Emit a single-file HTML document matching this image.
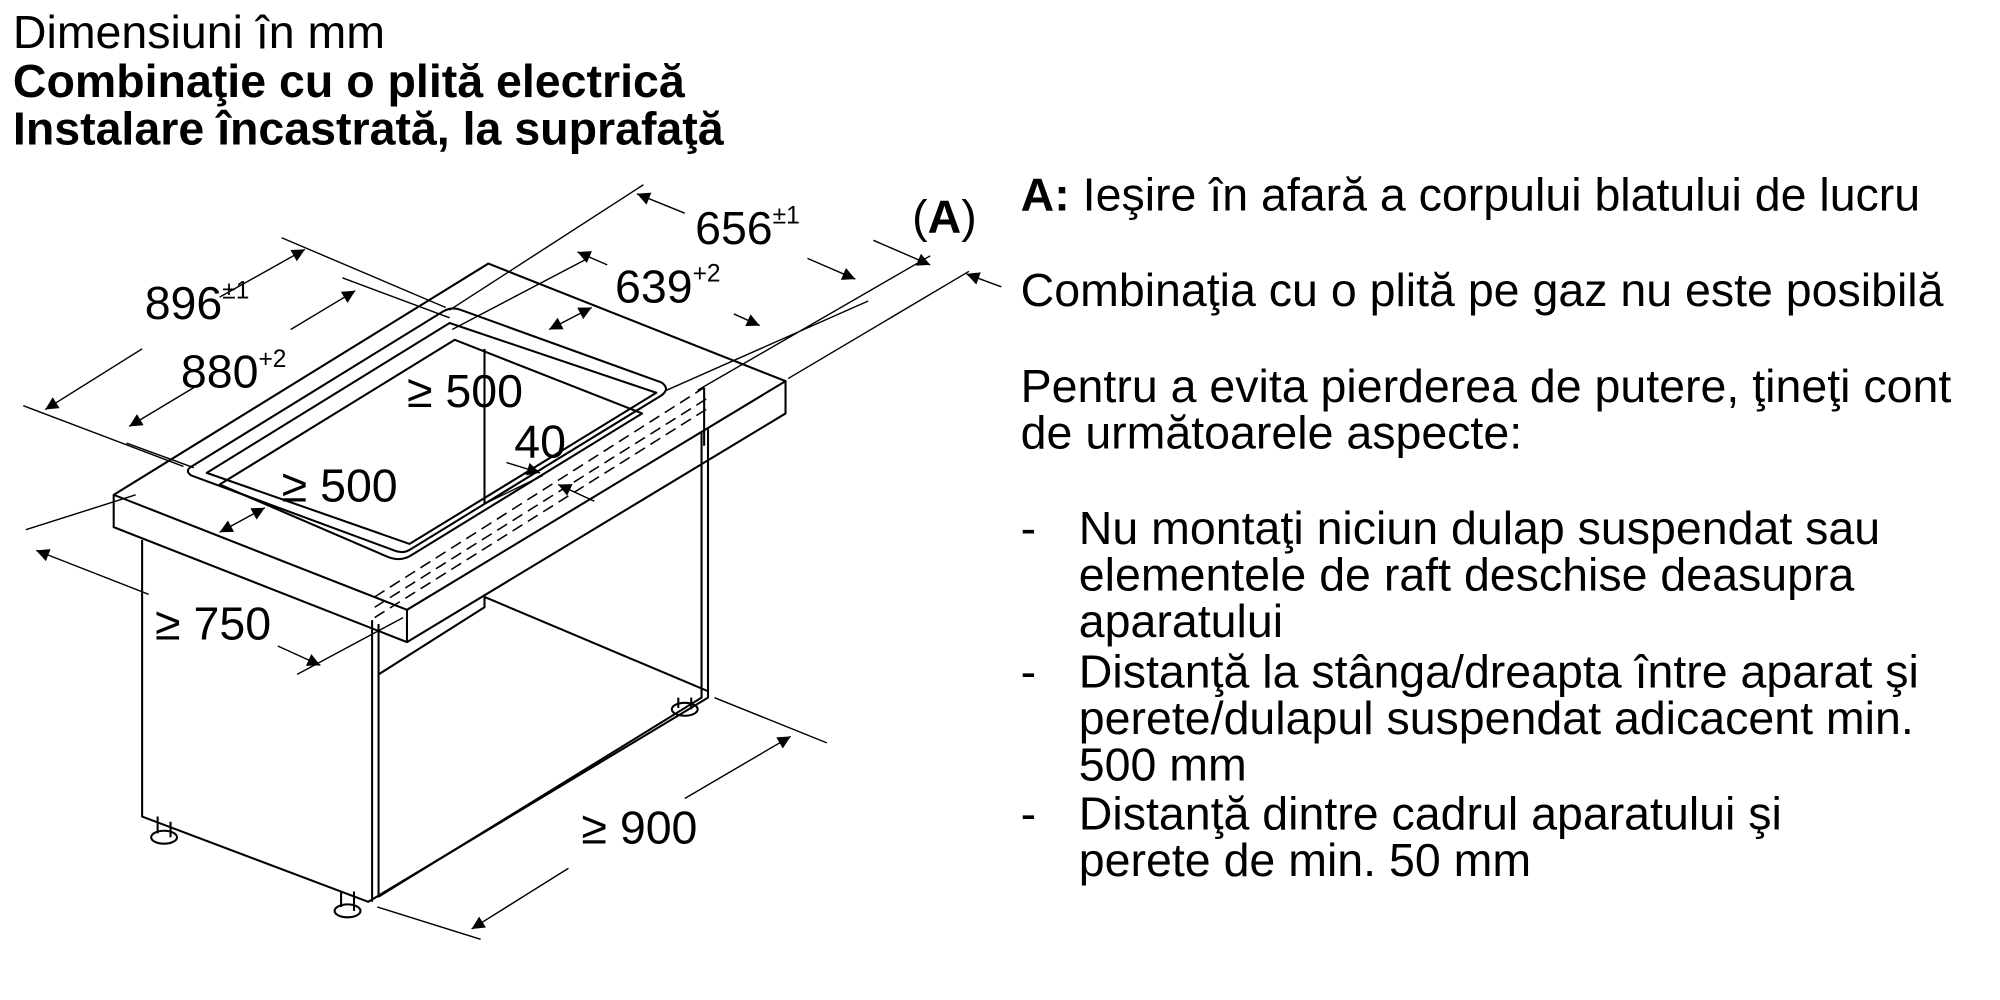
<!DOCTYPE html>
<html><head><meta charset="utf-8"><style>
html,body{margin:0;padding:0;background:#fff;width:2000px;height:1000px;overflow:hidden}
svg{display:block}
text{font-family:"Liberation Sans",sans-serif;fill:#000}
</style></head><body>
<svg width="2000" height="1000" viewBox="0 0 1548 774" preserveAspectRatio="none" xmlns="http://www.w3.org/2000/svg">
<defs>
<marker id="a" viewBox="0 0 10 10" refX="10" refY="5" markerWidth="18" markerHeight="10" markerUnits="userSpaceOnUse" orient="auto-start-reverse"><path d="M0,0 L10,5 L0,10 z" fill="#000"/></marker>
</defs>
<text x="10" y="37" font-size="36">Dimensiuni în mm</text>
<text x="10" y="75" font-size="36" font-weight="bold">Combinaţie cu o plită electrică</text>
<text x="10" y="112" font-size="36" font-weight="bold">Instalare încastrată, la suprafaţă</text>

<g font-size="36">
<text x="790" y="163"><tspan font-weight="bold">A:</tspan> Ieşire în afară a corpului blatului de lucru</text>
<text x="790" y="237">Combinaţia cu o plită pe gaz nu este posibilă</text>
<text x="790" y="311">Pentru a evita pierderea de putere, ţineţi cont</text>
<text x="790" y="347">de următoarele aspecte:</text>
<text x="790" y="421">-</text><text x="835" y="421">Nu montaţi niciun dulap suspendat sau</text>
<text x="835" y="457">elementele de raft deschise deasupra</text>
<text x="835" y="493">aparatului</text>
<text x="790" y="532">-</text><text x="835" y="532">Distanţă la stânga/dreapta între aparat şi</text>
<text x="835" y="568">perete/dulapul suspendat adicacent min.</text>
<text x="835" y="604">500 mm</text>
<text x="790" y="642">-</text><text x="835" y="642">Distanţă dintre cadrul aparatului şi</text>
<text x="835" y="678">perete de min. 50 mm</text>
</g>

<g stroke="#000" fill="none" stroke-width="1.6" stroke-linejoin="round">
<path d="M110,418 L110,632 L285,698 L548,540 L548,320"/>
<path d="M288,480 L288,698 M293,483 L293,694 L543,540 L543,322"/>
<path d="M375,462 L548,535 M293,522 L375,470 L375,460"/>
<path d="M122,632 L122,645 M132,636 L132,648"/><ellipse cx="127" cy="648" rx="10" ry="5"/>
<path d="M264,690 L264,702 M274,690 L274,705"/><ellipse cx="269" cy="705" rx="10" ry="5"/>
<path d="M525,540 L525,548 M535,540 L535,549"/><ellipse cx="530" cy="549" rx="10" ry="5"/>
<path d="M88,383 L378,204 L608,295 L315,472 Z" fill="#fff"/>
<path d="M88,383 L88,408 L315,497 L608,320 L608,295 M315,472 L315,497"/>
<path d="M150,360 L343,241 Q350,237 357,240 L512,296 Q519,301 512,306 L318,425 Q312,429 305,426 L148,368 Q142,364 150,360 Z" fill="#fff"/>
<path d="M160,366 L348,250 L508,304 L317,421 Z"/>
<path d="M170,375 L352,263 L497,320 L318,430 Q310,435 300,431 Z"/>
<path d="M375,270 L375,390"/>
<g stroke-dasharray="9,5" stroke-width="1.2">
<path d="M290,462 L545,300 M290,470 L548,308 M290,478 L548,316"/>
</g>
<path d="M545,300 L545,345"/>
</g>

<g stroke="#000" fill="none" stroke-width="1.1">
<path d="M18,314 L142,361 M218,184 L345,238 M98,343 L150,362 M265,215 L348,246"/>
<path d="M348,240 L498,143 M350,255 L455,200 M516,302 L672,233 M540,302 L720,198 M610,293 L750,210"/>
<path d="M20,410 L105,383 M230,522 L312,478 M292,702 L372,727 M553,540 L640,575 M375,390 L420,368"/>
<path d="M35,317 L110,270" marker-start="url(#a)"/>
<path d="M170,230 L236,193" marker-end="url(#a)"/>
<path d="M100,330 L150,300" marker-start="url(#a)"/>
<path d="M225,255 L275,225" marker-end="url(#a)"/>
<path d="M493,150 L530,165" marker-start="url(#a)"/>
<path d="M625,200 L662,216" marker-end="url(#a)"/>
<path d="M447,195 L470,205" marker-start="url(#a)"/>
<path d="M568,243 L588,252" marker-end="url(#a)"/>
<path d="M676,186 L720,205" marker-end="url(#a)"/>
<path d="M775,222 L748,212" marker-end="url(#a)"/>
<path d="M425,255 L458,238" marker-start="url(#a)" marker-end="url(#a)"/>
<path d="M170,412 L205,393" marker-start="url(#a)" marker-end="url(#a)"/>
<path d="M392,358 L418,366" marker-end="url(#a)"/>
<path d="M460,388 L432,375" marker-end="url(#a)"/>
<path d="M28,426 L115,460" marker-start="url(#a)"/>
<path d="M215,500 L248,515" marker-end="url(#a)"/>
<path d="M365,719 L440,672" marker-start="url(#a)"/>
<path d="M530,618 L612,570" marker-end="url(#a)"/>
</g>

<g font-size="36">
<text x="112" y="247">896<tspan font-size="19" dy="-16">±1</tspan></text>
<text x="140" y="300">880<tspan font-size="19" dy="-16">+2</tspan></text>
<text x="538" y="189">656<tspan font-size="19" dy="-16">±1</tspan></text>
<text x="476" y="234">639<tspan font-size="19" dy="-16">+2</tspan></text>
<text x="706" y="180">(<tspan font-weight="bold">A</tspan>)</text>
<text x="315" y="315">≥ 500</text>
<text x="398" y="354">40</text>
<text x="218" y="388">≥ 500</text>
<text x="120" y="495">≥ 750</text>
<text x="450" y="653">≥ 900</text>
</g>
</svg>
</body></html>
